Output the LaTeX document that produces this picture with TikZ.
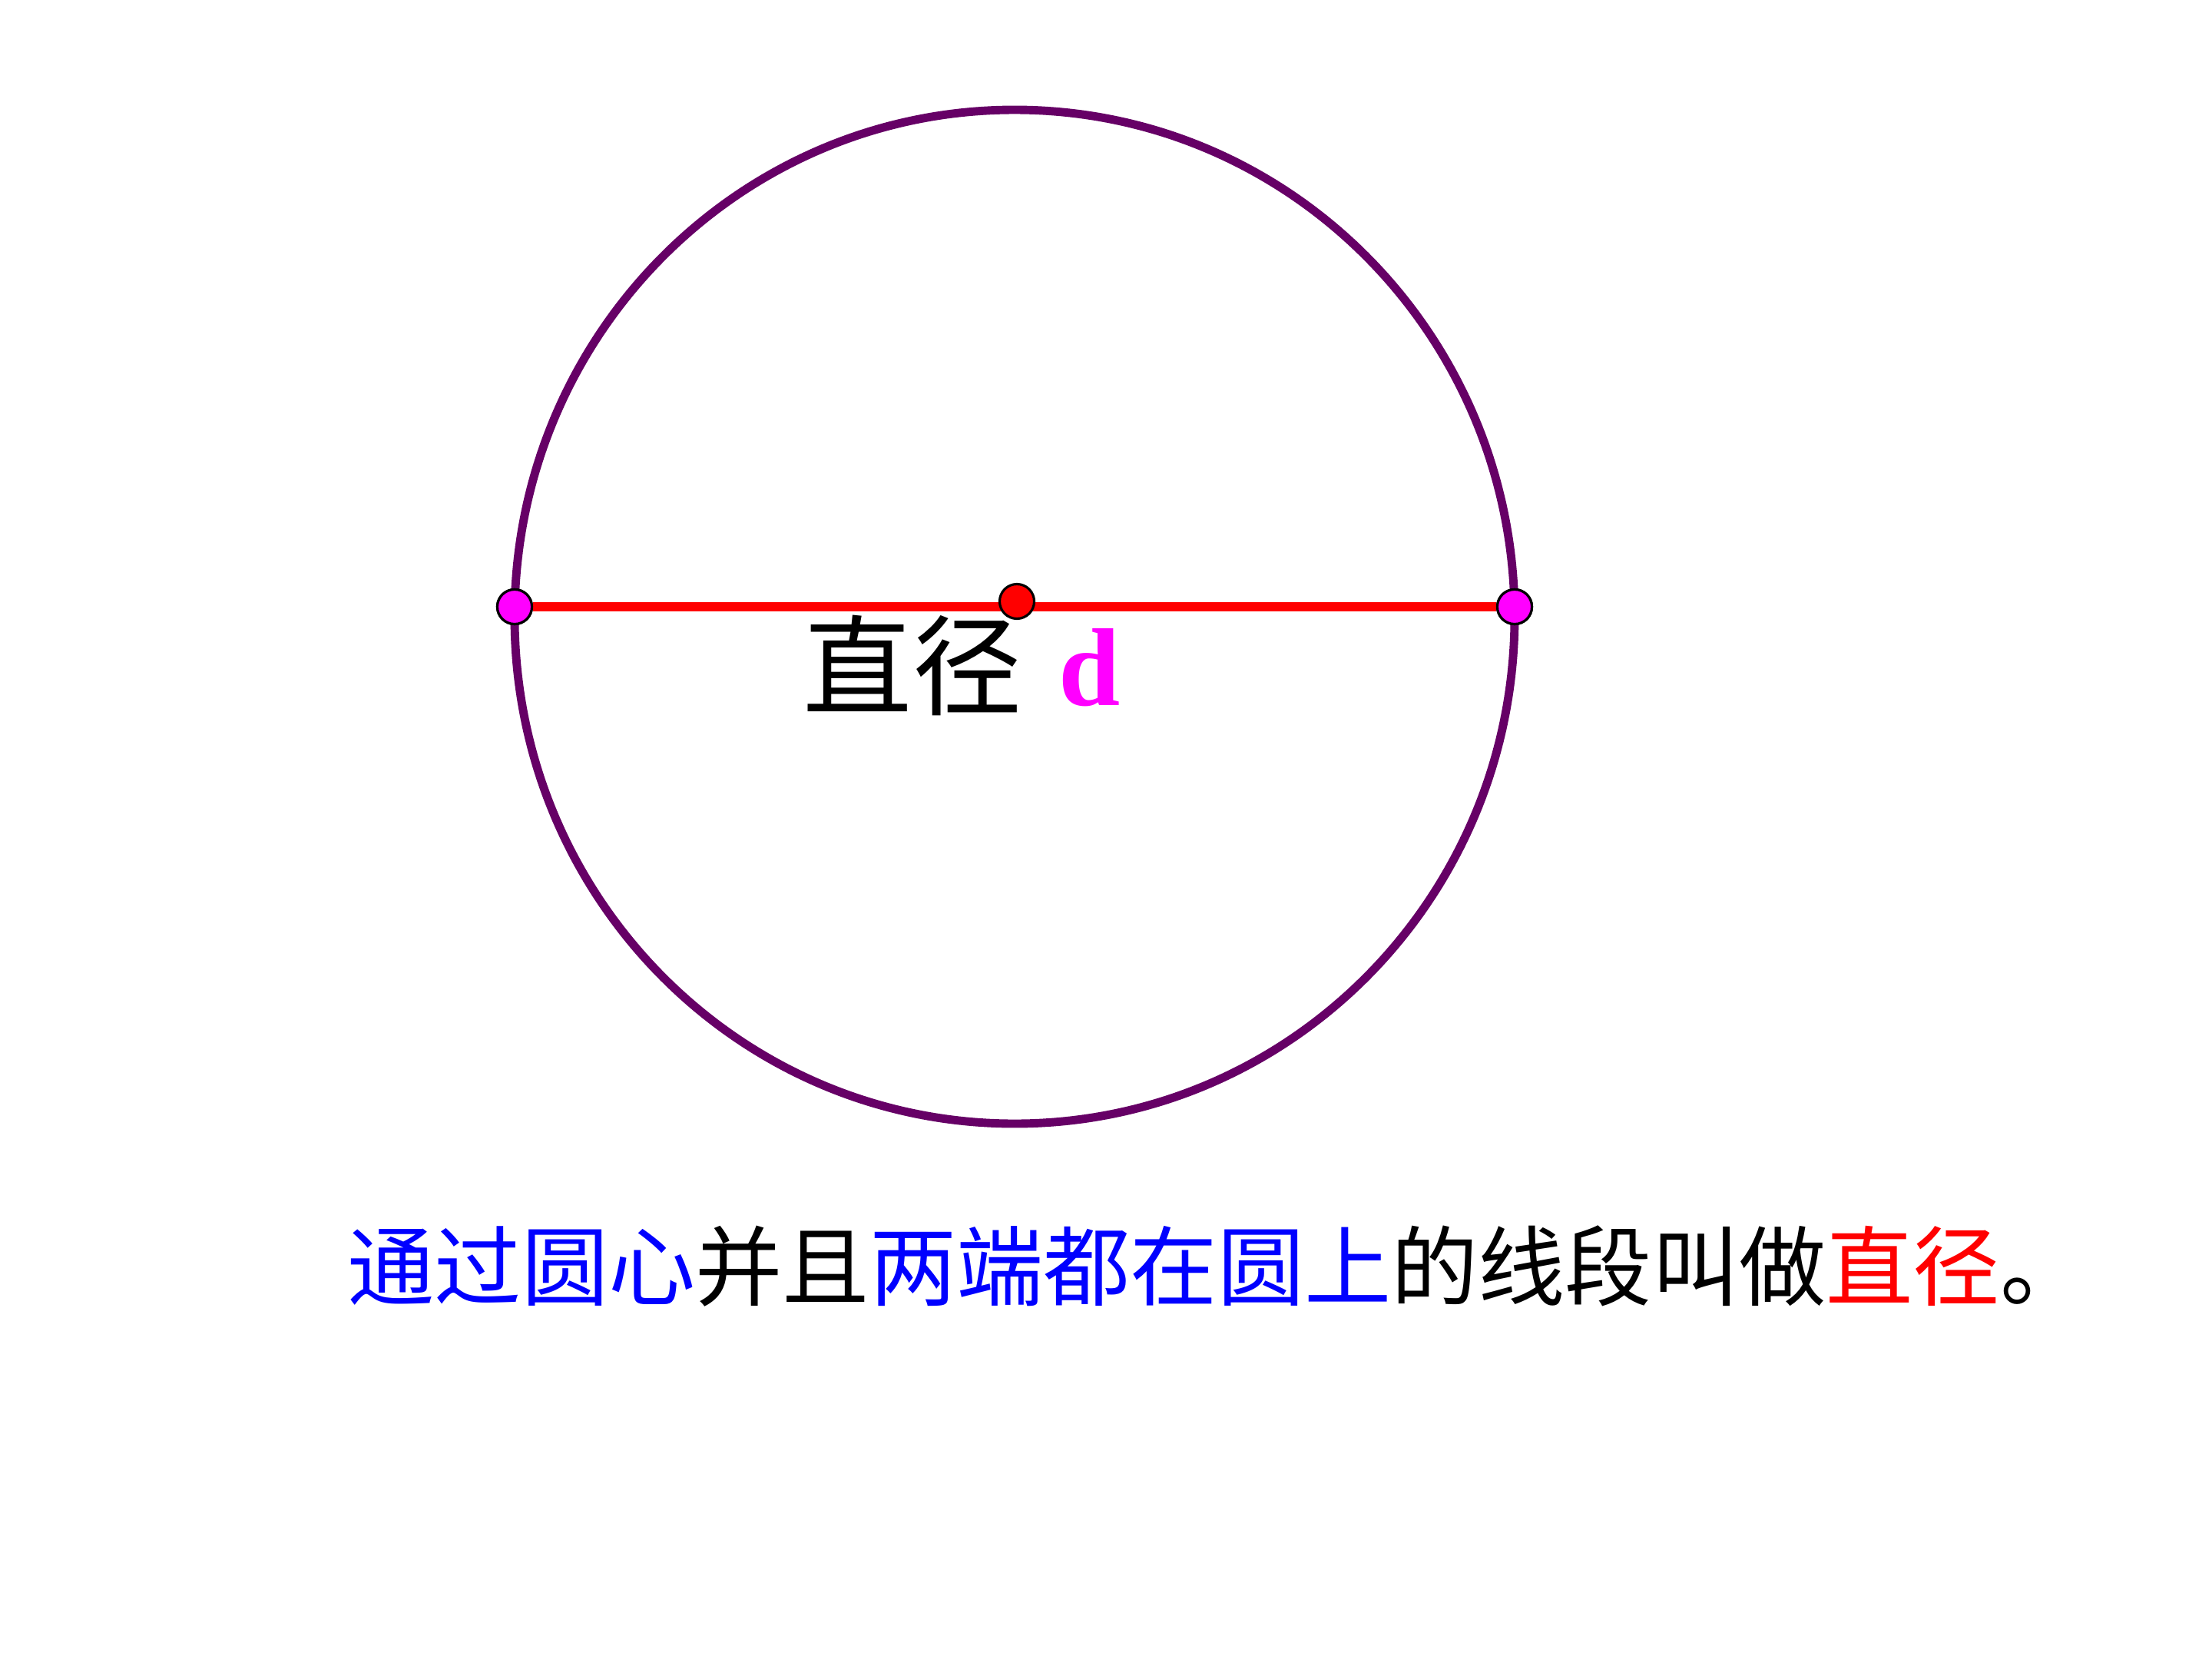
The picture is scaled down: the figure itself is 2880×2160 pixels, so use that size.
\documentclass[tikz,border=0pt]{standalone}
\usepackage{fontspec}
\setmainfont{Liberation Serif}
\newfontfamily\cjk{Noto Sans CJK SC}
\definecolor{ringpurple}{RGB}{102,0,102}
\definecolor{ptmagenta}{RGB}{255,0,255}
\definecolor{txtblue}{RGB}{0,0,255}
\definecolor{txtred}{RGB}{255,0,0}
\tikzset{
  endpt/.style={circle,draw=black,line width=0.9pt,fill=ptmagenta,inner sep=0pt,minimum size=0.45cm},
  ctrpt/.style={circle,draw=black,line width=0.9pt,fill=txtred,inner sep=0pt,minimum size=0.45cm},
}
\begin{document}
\begin{tikzpicture}[x=0.01cm,y=-0.01cm]
      \useasboundingbox (0,0) rectangle (2880,2160);
      \def\cx{1321};
      \def\cy{803};
      \draw[ringpurple,line width=3.1pt] (\cx,\cy) ellipse [x radius=651,y radius=660];
      \coordinate (o) at (\cx,\cy);
      \node[endpt] (a) at (670,790) {};
      \node[endpt] (b) at (1972,790) {};
      \draw[txtred,line width=3.4pt] (a) -- (b);
      \node[endpt] at (a) {};
      \node[endpt] at (b) {};
      \node[ctrpt] (c) at (1324,783) {};
      \node[inner sep=0pt] (lbl) at (1188,866) {\cjk\fontsize{40.4pt}{48pt}\selectfont 直径};
      \node[inner sep=0pt,anchor=base west,text=ptmagenta] (d) at (1378,918) {\fontsize{41pt}{48pt}\selectfont\bfseries d};
      % definition line
      \node[inner sep=0pt,anchor=west] (def) at (452,1649) {\cjk\fontsize{32.2pt}{38pt}\selectfont
        {\color{txtblue}通过圆心}并且{\color{txtblue}两端都在圆上}的线段叫做{\color{txtred}直径}。};
\end{tikzpicture}
\end{document}
